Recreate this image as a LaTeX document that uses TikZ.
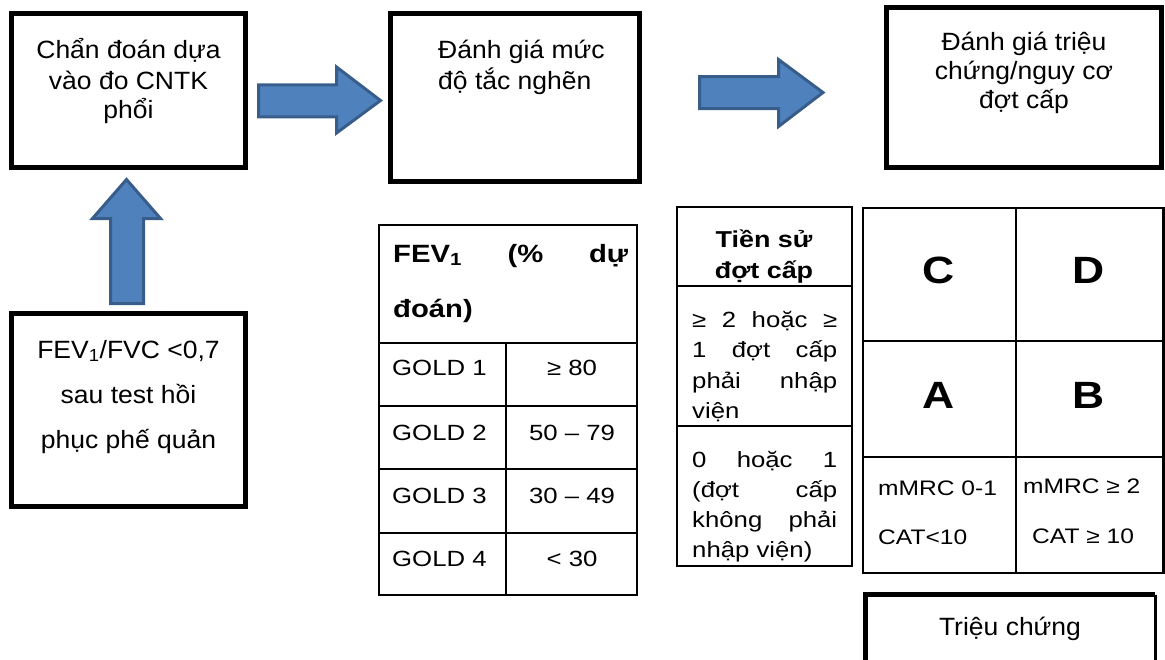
\documentclass[tikz,border=0pt]{standalone}
\usepackage{fontspec}
\setmainfont{Liberation Sans}
\newfontfamily\boxfont{Liberation Sans}[FakeStretch=1.06]
\newfontfamily\tabfont{Liberation Sans}[FakeStretch=1.17]
\definecolor{arrowfill}{HTML}{4F81BD}
\definecolor{arrowline}{HTML}{385D8A}
\tikzset{
  thickbox/.style={draw=black, line width=5pt, inner sep=0pt, fill=white},
  blockarrow/.style={fill=arrowfill, draw=arrowline, line width=3pt, line join=miter},
  tabline/.style={draw=black, line width=2.5pt},
  thinline/.style={draw=black, line width=2pt},
  btxt/.style={inner sep=0pt, anchor=base, font=\boxfont\fontsize{25}{30}\selectfont},
  btxtl/.style={btxt, anchor=base west},
  ttxt/.style={inner sep=0pt, anchor=base west, font=\tabfont\fontsize{22}{27}\selectfont},
  ttxtc/.style={ttxt, anchor=base},
  mtxt/.style={inner sep=0pt, anchor=base west, font=\tabfont\fontsize{21}{25}\selectfont},
  hdtxt/.style={inner sep=0pt, anchor=base west, font=\tabfont\bfseries\fontsize{25}{30}\selectfont},
  hdtxtc/.style={inner sep=0pt, anchor=base, font=\tabfont\bfseries\fontsize{23}{28}\selectfont},
  bigletter/.style={inner sep=0pt, anchor=center, font=\tabfont\bfseries\fontsize{38}{44}\selectfont},
}
\begin{document}
\begin{tikzpicture}[x=1pt, y=-1pt]
\useasboundingbox (0,0) rectangle (1165,659);

% main boxes
\node[thickbox, minimum width=234pt, minimum height=154pt] (b1) at (128.5,90.5) {};
\node[thickbox, minimum width=249pt, minimum height=168pt] (b2) at (515,97.5) {};
\node[thickbox, minimum width=275pt, minimum height=160pt] (b3) at (1024,87.5) {};
\node[thickbox, minimum width=234pt, minimum height=193pt] (b4) at (128.5,410) {};

% block arrows
\draw[blockarrow] (258.5,84.8) -- (336.5,84.8) -- (336.5,67) -- (380.5,100.5)
  -- (336.5,133) -- (336.5,116.8) -- (258.5,116.8) -- cycle;
\draw[blockarrow] (699.5,76.5) -- (778.5,76.5) -- (778.5,59.5) -- (823,92.5)
  -- (778.5,126.5) -- (778.5,108.5) -- (699.5,108.5) -- cycle;
\draw[blockarrow] (110.5,303.5) -- (110.5,218.5) -- (92.5,218.5) -- (126.5,179.5)
  -- (160.5,218.5) -- (143.5,218.5) -- (143.5,303.5) -- cycle;

% box texts
\node[btxt] (t11) at (128.5,58) {Chẩn đoán dựa};
\node[btxt] (t12) at (128.5,89) {vào đo CNTK};
\node[btxt] (t13) at (128.5,118) {phổi};

\node[btxtl] (t21) at (438,58) {Đánh giá mức};
\node[btxtl] (t22) at (438,89) {độ tắc nghẽn};

\node[btxt] (t31) at (1024,50) {Đánh giá triệu};
\node[btxt] (t32) at (1024,79) {chứng/nguy cơ};
\node[btxt] (t33) at (1024,108) {đợt cấp};

\node[btxt] (t41) at (128.5,358) {FEV\textsubscript{1}/FVC <0,7};
\node[btxt] (t42) at (128.5,403) {sau test hồi};
\node[btxt] (t43) at (128.5,448) {phục phế quản};

% FEV1 table
\draw[tabline] (379,225) rectangle (637,595);
\foreach \yy in {343,406,469,533} \draw[tabline] (379,\yy) -- (637,\yy);
\draw[tabline] (506,343) -- (506,595);
\node[hdtxt] (fh1) at (393,262) {\makebox[235pt][l]{FEV\textsubscript{1}\hfill(\%\hfill dự}};
\node[hdtxt] (fh2) at (393,317) {đoán)};
\node[ttxt] (g1) at (392,375) {GOLD 1};
\node[ttxt] (g2) at (392,440) {GOLD 2};
\node[ttxt] (g3) at (392,503) {GOLD 3};
\node[ttxt] (g4) at (392,566) {GOLD 4};
\node[ttxtc] (v1) at (572,375) {≥ 80};
\node[ttxtc] (v2) at (572,440) {50 – 79};
\node[ttxtc] (v3) at (572,503) {30 – 49};
\node[ttxtc] (v4) at (572,566) {< 30};

% history table
\draw[thinline] (677,207) rectangle (852,566);
\draw[thinline] (677,286) -- (852,286);
\draw[thinline] (677,426) -- (852,426);
\node[hdtxtc] (h1) at (764,247) {Tiền sử};
\node[hdtxtc] (h2) at (764,278) {đợt cấp};
\node[ttxt] (r11) at (692,327) {\makebox[145pt][l]{≥\hfill 2\hfill hoặc\hfill ≥}};
\node[ttxt] (r12) at (692,357) {\makebox[145pt][l]{1\hfill đợt\hfill cấp}};
\node[ttxt] (r13) at (692,388) {\makebox[145pt][l]{phải\hfill nhập}};
\node[ttxt] (r14) at (692,418) {viện};
\node[ttxt] (r21) at (692,467) {\makebox[145pt][l]{0\hfill hoặc\hfill 1}};
\node[ttxt] (r22) at (692,497) {\makebox[145pt][l]{(đợt\hfill cấp}};
\node[ttxt] (r23) at (692,527) {\makebox[145pt][l]{không\hfill phải}};
\node[ttxt] (r24) at (692,557) {nhập viện)};

% ABCD grid
\draw[tabline] (863,208) rectangle (1163.5,573);
\draw[tabline] (863,341) -- (1163.5,341);
\draw[tabline] (863,457) -- (1163.5,457);
\draw[tabline] (1016,208) -- (1016,573);
\node[bigletter] (C) at (939,270) {C};
\node[bigletter] (D) at (1089,270) {D};
\node[bigletter] (A) at (939,395) {A};
\node[bigletter] (B) at (1089,395) {B};
\node[mtxt] (m1) at (878,495) {mMRC 0-1};
\node[mtxt] (m2) at (878,544) {CAT<10};
\node[mtxt] (m3) at (1023,493) {mMRC ≥ 2};
\node[mtxt] (m4) at (1032,543) {CAT ≥ 10};

% symptom box (cut off at bottom)
\draw[black, line width=5pt] (865.5,665) -- (865.5,594.5) -- (1155,594.5);
\draw[black, line width=3pt] (1155.5,594.5) -- (1155.5,665);
\node[btxt] (tc) at (1010,635) {Triệu chứng};
\end{tikzpicture}
\end{document}
